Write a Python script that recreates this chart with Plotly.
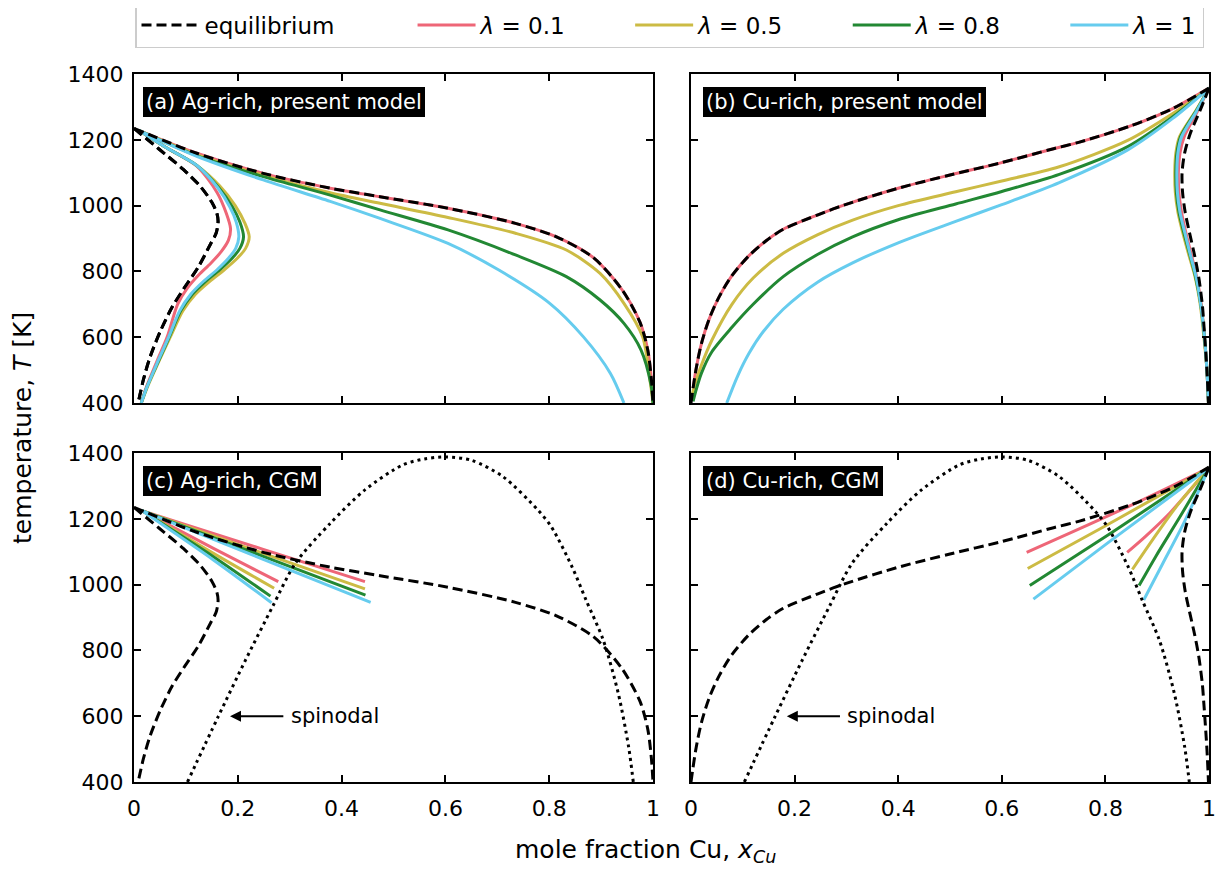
import plotly.graph_objects as go

# the page has an 8px body margin: size the figure to the visible area
OFF = 8
W, H = 1224 - OFF, 869 - OFF
FONT = "DejaVu Sans"


def fx(p):
    return (p - OFF) / W


def fy(p):
    return 1 - (p - OFF) / H


LAMBDAS = ["0.1", "0.5", "0.8", "1"]
COLORS = ["#EE6677", "#CCBB44", "#228833", "#66CCEE"]

# ---------------- equilibrium (dashed) ----------------
eq_ag_sol_x = [0.0, 0.048, 0.095, 0.128, 0.150, 0.160, 0.162, 0.158, 0.148, 0.123, 0.097, 0.073, 0.051, 0.031, 0.018, 0.008]
eq_ag_sol_T = [1235, 1172, 1110, 1058, 1010, 975, 950, 915, 885, 811, 750, 690, 619, 540, 470, 400]
eq_ag_liq_x = [0.0, 0.121, 0.249, 0.378, 0.474, 0.605, 0.735, 0.814, 0.885, 0.940, 0.975, 0.990, 0.997, 1.000]
eq_ag_liq_T = [1235, 1159, 1098, 1053, 1027, 992, 946, 905, 842, 745, 645, 560, 470, 400]
eq_cu_liq_x = [0.0, 0.004, 0.010, 0.020, 0.035, 0.055, 0.079, 0.112, 0.145, 0.178, 0.245, 0.298, 0.405, 0.500, 0.598, 0.700, 0.750, 0.850, 0.930, 1.0]
eq_cu_liq_T = [400, 445, 505, 580, 655, 725, 787, 848, 893, 928, 972, 1003, 1055, 1093, 1130, 1173, 1193, 1243, 1295, 1357]
eq_cu_sol_x = [1.0, 0.983, 0.964, 0.953, 0.948, 0.949, 0.954, 0.962, 0.972, 0.980, 0.987, 0.990, 0.996, 0.999]
eq_cu_sol_T = [1357, 1290, 1220, 1160, 1100, 1040, 980, 920, 850, 784, 700, 640, 500, 400]

# spinodal (dotted)
spin_x = [0.103, 0.162, 0.215, 0.267, 0.311, 0.378, 0.445, 0.518, 0.560, 0.601, 0.650, 0.711, 0.778, 0.804, 0.844, 0.871, 0.904, 0.933, 0.953, 0.962]
spin_T = [400, 598, 771, 933, 1065, 1186, 1288, 1364, 1382, 1388, 1378, 1328, 1227, 1176, 1054, 953, 832, 670, 507, 400]

# ---------------- (a) present model, Ag-rich ----------------
pm_ag_sol_x = [
    [0.010, 0.060, 0.121, 0.160, 0.178, 0.186, 0.182, 0.168, 0.148, 0.125, 0.103, 0.084, 0.064, 0.045, 0.024, 0.014],
    [0.010, 0.060, 0.121, 0.165, 0.195, 0.214, 0.222, 0.215, 0.199, 0.174, 0.146, 0.118, 0.094, 0.070, 0.049, 0.026, 0.014],
    [0.010, 0.060, 0.121, 0.163, 0.190, 0.204, 0.211, 0.204, 0.189, 0.165, 0.138, 0.112, 0.090, 0.068, 0.048, 0.025, 0.014],
    [0.010, 0.060, 0.121, 0.161, 0.185, 0.197, 0.202, 0.196, 0.182, 0.160, 0.134, 0.109, 0.088, 0.067, 0.047, 0.025, 0.014],
]
pm_ag_sol_T = [
    [1228, 1178, 1120, 1040, 976, 930, 895, 860, 825, 790, 750, 700, 601, 530, 449, 400],
    [1228, 1178, 1122, 1060, 1000, 945, 905, 870, 840, 805, 770, 730, 680, 601, 530, 449, 400],
    [1228, 1178, 1122, 1055, 995, 950, 905, 870, 840, 805, 770, 730, 680, 601, 530, 449, 400],
    [1228, 1178, 1122, 1055, 995, 950, 905, 870, 840, 805, 770, 730, 680, 601, 530, 449, 400],
]
pm_ag_liq_x = [
    [0.010, 0.121, 0.249, 0.378, 0.474, 0.605, 0.735, 0.814, 0.885, 0.940, 0.975, 0.990, 0.997, 1.000],
    [0.010, 0.121, 0.249, 0.378, 0.474, 0.605, 0.735, 0.833, 0.898, 0.944, 0.980, 0.995, 1.000],
    [0.010, 0.121, 0.249, 0.378, 0.474, 0.605, 0.735, 0.833, 0.898, 0.944, 0.977, 0.996, 1.000],
    [0.010, 0.121, 0.249, 0.378, 0.474, 0.605, 0.703, 0.801, 0.866, 0.918, 0.944],
]
pm_ag_liq_T = [
    [1228, 1159, 1098, 1053, 1027, 992, 946, 905, 842, 745, 645, 560, 470, 400],
    [1228, 1155, 1092, 1039, 1007, 964, 916, 865, 794, 703, 601, 460, 400],
    [1228, 1152, 1088, 1032, 987, 926, 850, 784, 713, 642, 561, 457, 400],
    [1228, 1150, 1078, 1013, 961, 885, 804, 703, 601, 490, 400],
]

# ---------------- (b) present model, Cu-rich ----------------
pm_cu_liq_x = [
    [0.004, 0.010, 0.020, 0.035, 0.055, 0.079, 0.112, 0.145, 0.178, 0.245, 0.298, 0.405, 0.500, 0.598, 0.700, 0.750, 0.850, 0.930, 1.0],
    [0.003, 0.010, 0.020, 0.040, 0.079, 0.120, 0.178, 0.245, 0.312, 0.400, 0.511, 0.600, 0.711, 0.844, 0.930, 1.0],
    [0.004, 0.009, 0.020, 0.040, 0.079, 0.120, 0.178, 0.245, 0.312, 0.400, 0.511, 0.600, 0.711, 0.844, 0.930, 1.0],
    [0.069, 0.090, 0.112, 0.140, 0.178, 0.245, 0.312, 0.400, 0.511, 0.600, 0.711, 0.844, 0.930, 1.0],
]
pm_cu_liq_T = [
    [445, 505, 580, 655, 725, 787, 848, 893, 928, 972, 1003, 1055, 1093, 1130, 1173, 1193, 1243, 1295, 1357],
    [430, 470, 515, 590, 700, 780, 855, 912, 956, 1000, 1042, 1075, 1118, 1199, 1280, 1357],
    [405, 435, 490, 555, 630, 700, 784, 852, 905, 957, 1005, 1043, 1095, 1180, 1270, 1357],
    [400, 482, 551, 618, 685, 768, 826, 887, 952, 1003, 1070, 1170, 1265, 1357],
]
pm_cu_sol_T = [1357, 1290, 1209, 1160, 1108, 1040, 980, 920, 850, 784, 700, 603, 500, 400]
pm_cu_sol_x = [
    [1.0, 0.979, 0.952, 0.944, 0.941, 0.942, 0.947, 0.955, 0.966, 0.976, 0.985, 0.991, 0.996, 0.999],
    [1.0, 0.975, 0.943, 0.936, 0.934, 0.935, 0.940, 0.949, 0.961, 0.973, 0.983, 0.990, 0.996, 0.999],
    [1.0, 0.976, 0.945, 0.938, 0.936, 0.937, 0.942, 0.951, 0.963, 0.974, 0.984, 0.991, 0.996, 0.999],
    [1.0, 0.977, 0.947, 0.940, 0.938, 0.939, 0.944, 0.953, 0.964, 0.975, 0.984, 0.991, 0.996, 0.999],
]

# ---------------- (c) CGM, Ag-rich ----------------
cgm_ag_sol_x = [[0.015, 0.153, 0.278], [0.015, 0.153, 0.270], [0.015, 0.153, 0.263], [0.015, 0.153, 0.265]]
cgm_ag_sol_T = [[1225, 1110, 1009], [1225, 1095, 989], [1225, 1085, 965], [1225, 1075, 945]]
cgm_ag_liq_x = [[0.015, 0.249, 0.445], [0.015, 0.249, 0.445], [0.015, 0.249, 0.446], [0.015, 0.249, 0.456]]
cgm_ag_liq_T = [[1225, 1107, 1009], [1225, 1095, 987], [1225, 1086, 968], [1225, 1077, 946]]

# ---------------- (d) CGM, Cu-rich ----------------
cgm_cu_liq_x = [[0.648, 0.844, 1.0], [0.650, 0.797, 1.0], [0.654, 0.811, 1.0], [0.661, 0.804, 1.0]]
cgm_cu_liq_T = [[1098, 1237, 1355], [1049, 1176, 1355], [997, 1157, 1355], [956, 1126, 1355]]
cgm_cu_sol_x = [[0.842, 0.877, 0.924, 0.964, 1.0], [0.852, 0.891, 0.937, 1.0], [0.865, 0.897, 0.944, 1.0], [0.874, 0.911, 0.951, 1.0]]
cgm_cu_sol_T = [[1098, 1146, 1217, 1288, 1355], [1046, 1136, 1237, 1355], [997, 1085, 1206, 1355], [953, 1065, 1186, 1355]]

# tick labels
x_tickvals = [0, 0.2, 0.4, 0.6, 0.8, 1.0]
x_ticktext = ["0", "0.2", "0.4", "0.6", "0.8", "1"]
y_tickvals = [400, 600, 800, 1000, 1200, 1400]
y_ticktext = ["400", "600", "800", "1000", "1200", "1400"]

panel_labels = ["(a) Ag-rich, present model", "(b) Cu-rich, present model",
                "(c) Ag-rich, CGM", "(d) Cu-rich, CGM"]

NB = "\u00a0"
legend_names = ["equilibrium" + NB * 10] + [
    "<i>λ</i> = " + l + (NB * 8 if i < 3 else "") for i, l in enumerate(LAMBDAS)]

fig = go.Figure()
shown = set()


def add(x, y, ax, color, dash, key, name, width=3, smooth=0.8):
    sl = key not in shown
    shown.add(key)
    sfx = "" if ax == 1 else str(ax)
    fig.add_trace(go.Scatter(
        x=x, y=y, mode="lines", xaxis="x" + sfx, yaxis="y" + sfx,
        line=dict(color=color, width=width, dash=dash, shape="spline", smoothing=smooth),
        name=name, legendgroup=key, showlegend=sl, hoverinfo="skip"))


EQ_DASH = "10px,5px"
SP_DASH = "3px,4px"

# legend order: equilibrium first
add(eq_ag_sol_x, eq_ag_sol_T, 1, "black", EQ_DASH, "eq", legend_names[0])

# panel a colored
for i in range(4):
    add(pm_ag_sol_x[i], pm_ag_sol_T[i], 1, COLORS[i], "solid", "l" + str(i), legend_names[i + 1])
    add(pm_ag_liq_x[i], pm_ag_liq_T[i], 1, COLORS[i], "solid", "l" + str(i), legend_names[i + 1])
add(eq_ag_sol_x, eq_ag_sol_T, 1, "black", EQ_DASH, "eq", legend_names[0])
add(eq_ag_liq_x, eq_ag_liq_T, 1, "black", EQ_DASH, "eq", legend_names[0])

# panel b
for i in range(4):
    add(pm_cu_liq_x[i], pm_cu_liq_T[i], 2, COLORS[i], "solid", "l" + str(i), legend_names[i + 1])
    add(pm_cu_sol_x[i], pm_cu_sol_T, 2, COLORS[i], "solid", "l" + str(i), legend_names[i + 1])
add(eq_cu_liq_x, eq_cu_liq_T, 2, "black", EQ_DASH, "eq", legend_names[0])
add(eq_cu_sol_x, eq_cu_sol_T, 2, "black", EQ_DASH, "eq", legend_names[0])

# panel c
for i in range(4):
    add(cgm_ag_sol_x[i], cgm_ag_sol_T[i], 3, COLORS[i], "solid", "l" + str(i), legend_names[i + 1])
    add(cgm_ag_liq_x[i], cgm_ag_liq_T[i], 3, COLORS[i], "solid", "l" + str(i), legend_names[i + 1])
add(eq_ag_sol_x, eq_ag_sol_T, 3, "black", EQ_DASH, "eq", legend_names[0])
add(eq_ag_liq_x, eq_ag_liq_T, 3, "black", EQ_DASH, "eq", legend_names[0])
add(spin_x, spin_T, 3, "black", SP_DASH, "sp", "spinodal")

# panel d
for i in range(4):
    add(cgm_cu_liq_x[i], cgm_cu_liq_T[i], 4, COLORS[i], "solid", "l" + str(i), legend_names[i + 1])
    add(cgm_cu_sol_x[i], cgm_cu_sol_T[i], 4, COLORS[i], "solid", "l" + str(i), legend_names[i + 1])
add(eq_cu_liq_x, eq_cu_liq_T, 4, "black", EQ_DASH, "eq", legend_names[0])
add(eq_cu_sol_x, eq_cu_sol_T, 4, "black", EQ_DASH, "eq", legend_names[0])
add(spin_x, spin_T, 4, "black", SP_DASH, "sp", "spinodal")

for tr in fig.data:
    if tr.legendgroup == "sp":
        tr.showlegend = False

# ---------------- layout (positions given in page pixels) ----------------
xdom = [[fx(134), fx(653)], [fx(691), fx(1209)]]
ydom = [[fy(403), fy(74)], [fy(782), fy(453)]]

layout = dict(
    width=W, height=H, margin=dict(l=0, r=0, t=0, b=0, autoexpand=False),
    paper_bgcolor="white", plot_bgcolor="white",
    font=dict(family=FONT, size=22, color="black"),
    showlegend=True,
    legend=dict(orientation="h", x=fx(135), y=fy(2), xanchor="left", yanchor="top",
                bordercolor="#cccccc", borderwidth=1.5, bgcolor="white",
                font=dict(size=23), itemwidth=58, traceorder="normal"),
)
for k in range(4):
    row, col = divmod(k, 2)
    sfx = "" if k == 0 else str(k + 1)
    common = dict(showline=True, linecolor="black", linewidth=2, mirror="allticks",
                  ticks="inside", ticklen=7, tickwidth=1.5, tickcolor="black",
                  showgrid=False, zeroline=False, fixedrange=True,
                  tickfont=dict(size=22, family=FONT))
    layout["xaxis" + sfx] = dict(common, domain=xdom[col], range=[0, 1], anchor="y" + sfx,
                                 tickvals=x_tickvals, ticktext=x_ticktext,
                                 showticklabels=(row == 1), ticklabelstandoff=6)
    layout["yaxis" + sfx] = dict(common, domain=ydom[row], range=[400, 1400], anchor="x" + sfx,
                                 tickvals=y_tickvals, ticktext=y_ticktext,
                                 showticklabels=(col == 0), ticklabelstandoff=4)
fig.update_layout(**layout)

annotations = []
label_pos = [(143, 102), (703, 102), (143, 481), (703, 481)]
for txt, (px, py) in zip(panel_labels, label_pos):
    annotations.append(dict(text=txt, x=fx(px), y=fy(py), xref="paper", yref="paper",
                            xanchor="left", yanchor="middle", showarrow=False,
                            font=dict(size=21, color="white", family=FONT),
                            bgcolor="black", bordercolor="black", borderwidth=1, borderpad=2))
for ax in ("3", "4"):
    annotations.append(dict(text="spinodal", x=0.185, y=600, xref="x" + ax, yref="y" + ax,
                            ax=0.387, ay=600, axref="x" + ax, ayref="y" + ax,
                            showarrow=True, arrowhead=2, arrowsize=1.1, arrowwidth=2,
                            arrowcolor="black", startstandoff=6,
                            font=dict(size=21, family=FONT)))
annotations.append(dict(text="mole fraction Cu, <i>x</i><sub><i>Cu</i></sub>",
                        x=fx(645), y=fy(851), xref="paper", yref="paper",
                        xanchor="center", yanchor="middle", showarrow=False,
                        font=dict(size=25, family=FONT)))
annotations.append(dict(text="temperature, <i>T</i> [K]", x=fx(22), y=fy(428),
                        xref="paper", yref="paper", textangle=-90,
                        xanchor="center", yanchor="middle", showarrow=False,
                        font=dict(size=25, family=FONT)))
fig.update_layout(annotations=annotations)

fig.write_html("out.html")
